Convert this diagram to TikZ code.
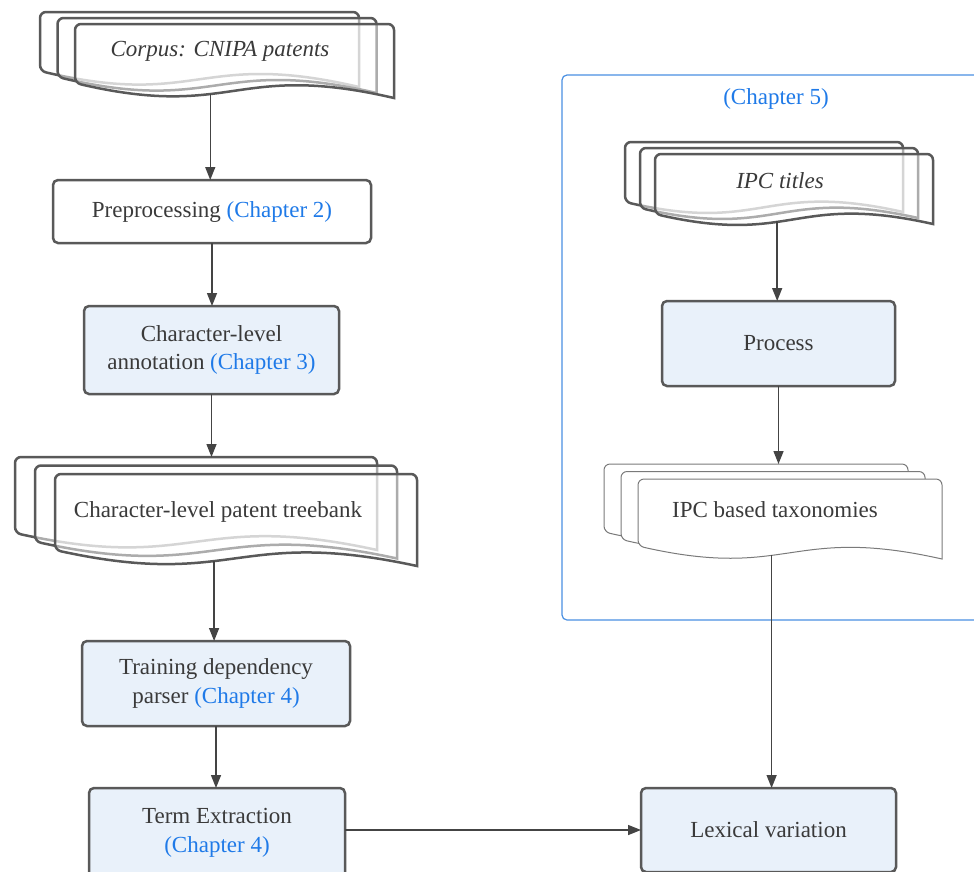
\documentclass[tikz,border=0pt]{standalone}
\usepackage{fontspec}
\setmainfont{Liberation Serif}
\usetikzlibrary{arrows.meta}
\definecolor{edge}{HTML}{595959}
\definecolor{ink}{HTML}{3A3A3A}
\definecolor{chap}{HTML}{1F7AE8}
\definecolor{boxfill}{HTML}{E9F1FA}
\definecolor{frame}{HTML}{4A90E2}
\definecolor{arrowc}{HTML}{444444}
\newcommand\ch[1]{\textcolor{chap}{#1}}
% #1 L, #2 T, #3 R, #4 yl, #5 yr, #6 wave amplitude, #7 style, #8 name, #9 pos
\newcommand\docpage[9]{%
  \draw[#7] (#3,#5) [rounded corners=6pt] -- (#3,#2) -- (#1,#2) -- (#1,#4) [sharp corners]
    .. controls ({#1+0.5*(#3-#1)},{#4+(#5-#4)/3+#6}) and ({#1+0.5*(#3-#1)},{#4+2*(#5-#4)/3-#6}) ..
    node[pos=#9,coordinate] (#8) {} (#3,#5) -- cycle;}
\tikzset{
  every node/.style={font=\fontsize{23}{28.5}\selectfont, text=ink},
  box/.style={draw=edge, line width=2.5pt, rounded corners=5pt, align=center, outer sep=0pt, inner sep=0pt},
  plainbox/.style={box, fill=white},
  bluebox/.style={box, fill=boxfill},
  thickdoc/.style={draw=edge, line width=2.5pt, fill=white, fill opacity=0.5},
  thindoc/.style={draw=edge!80, line width=1pt, fill=white},
  arr/.style={draw=arrowc, line width=1.4pt, -{Triangle[length=13pt,width=10pt]}},
  frameline/.style={draw=frame, line width=1.2pt, rounded corners=5pt},
  doctext/.style={align=center, inner sep=0pt}
}
\begin{document}
\begin{tikzpicture}[x=1pt,y=-1pt]
\clip (0,0) rectangle (974,871);
\fill[white] (0,0) rectangle (974,871);

% Chapter 5 frame
\draw[frameline] (562,75) rectangle (990,620);
\node[doctext, text=chap] (ch5) at (776,99) {(Chapter 5)};

% Corpus document stack
\docpage{40}{12}{359}{71}{87}{32}{thickdoc}{corpusC}{0.40}
\docpage{57.5}{18}{376.5}{77}{93}{32}{thickdoc}{corpusB}{0.40}
\docpage{75}{24}{394}{83}{98}{32}{thickdoc}{corpusout}{0.40}
\node[doctext, font=\fontsize{23}{28.5}\selectfont\itshape] (corpus) at (220,51) {Corpus: CNIPA patents};

% Treebank document stack
\docpage{15}{457}{377}{533}{550}{34}{thickdoc}{tbC}{0.42}
\docpage{35}{465.5}{397}{541.5}{558.5}{34}{thickdoc}{tbB}{0.42}
\docpage{55}{474}{417}{550}{566}{34}{thickdoc}{tbout}{0.42}
\node[doctext] (treebank) at (218,512) {Character-level patent treebank};
\coordinate (tbtop) at (211,457);

% IPC titles document stack
\docpage{625}{142}{903}{202}{212}{28}{thickdoc}{ipcC}{0.42}
\docpage{640}{148}{918}{208}{218}{28}{thickdoc}{ipcB}{0.42}
\docpage{655}{154}{933}{214}{224}{28}{thickdoc}{ipcout}{0.42}
\node[doctext, font=\fontsize{23}{28.5}\selectfont\itshape] (ipc) at (780,181) {IPC titles};

% IPC based taxonomies document stack
\docpage{604}{464}{908}{532}{545}{30}{thindoc}{taxC}{0.42}
\docpage{621}{471.5}{925}{539.5}{552.5}{30}{thindoc}{taxB}{0.42}
\docpage{638}{479}{942}{546}{559}{30}{thindoc}{taxout}{0.42}
\node[doctext] (tax) at (775,510) {IPC based taxonomies};
\coordinate (taxtop) at (778,464);

% Boxes
\node[plainbox, minimum width=318pt, minimum height=63pt] (prep) at (212,211.5) {Preprocessing \ch{(Chapter 2)}};
\node[bluebox, minimum width=255pt, minimum height=88pt] (charann) at (211.5,350) {Character-level\\annotation \ch{(Chapter 3)}};
\node[bluebox, minimum width=268pt, minimum height=85pt] (train) at (216,683.5) {Training dependency\\parser \ch{(Chapter 4)}};
\node[bluebox, minimum width=256pt, minimum height=90pt] (term) at (217,833) {Term Extraction\\\ch{(Chapter 4)}};
\node[bluebox, minimum width=255pt, minimum height=84pt] (lex) at (768.5,830) {Lexical variation};
\node[bluebox, minimum width=233pt, minimum height=85pt] (proc) at (778.5,343.5) {Process};

% Connectors
\draw[arr] (corpusout) -- (corpusout |- prep.north);
\draw[arr] (prep.south) -- (prep.south |- charann.north);
\draw[arr] (charann.south) -- (charann.south |- tbtop);
\draw[arr] (tbout) -- (tbout |- train.north);
\draw[arr] (train.south) -- (train.south |- term.north);
\draw[arr] (lex.west -| term.east) -- (lex.west);
\draw[arr] (ipcout) -- (ipcout |- proc.north);
\draw[arr] (proc.south) -- (proc.south |- taxtop);
\draw[arr] (taxout) -- (taxout |- lex.north);
\end{tikzpicture}
\end{document}
